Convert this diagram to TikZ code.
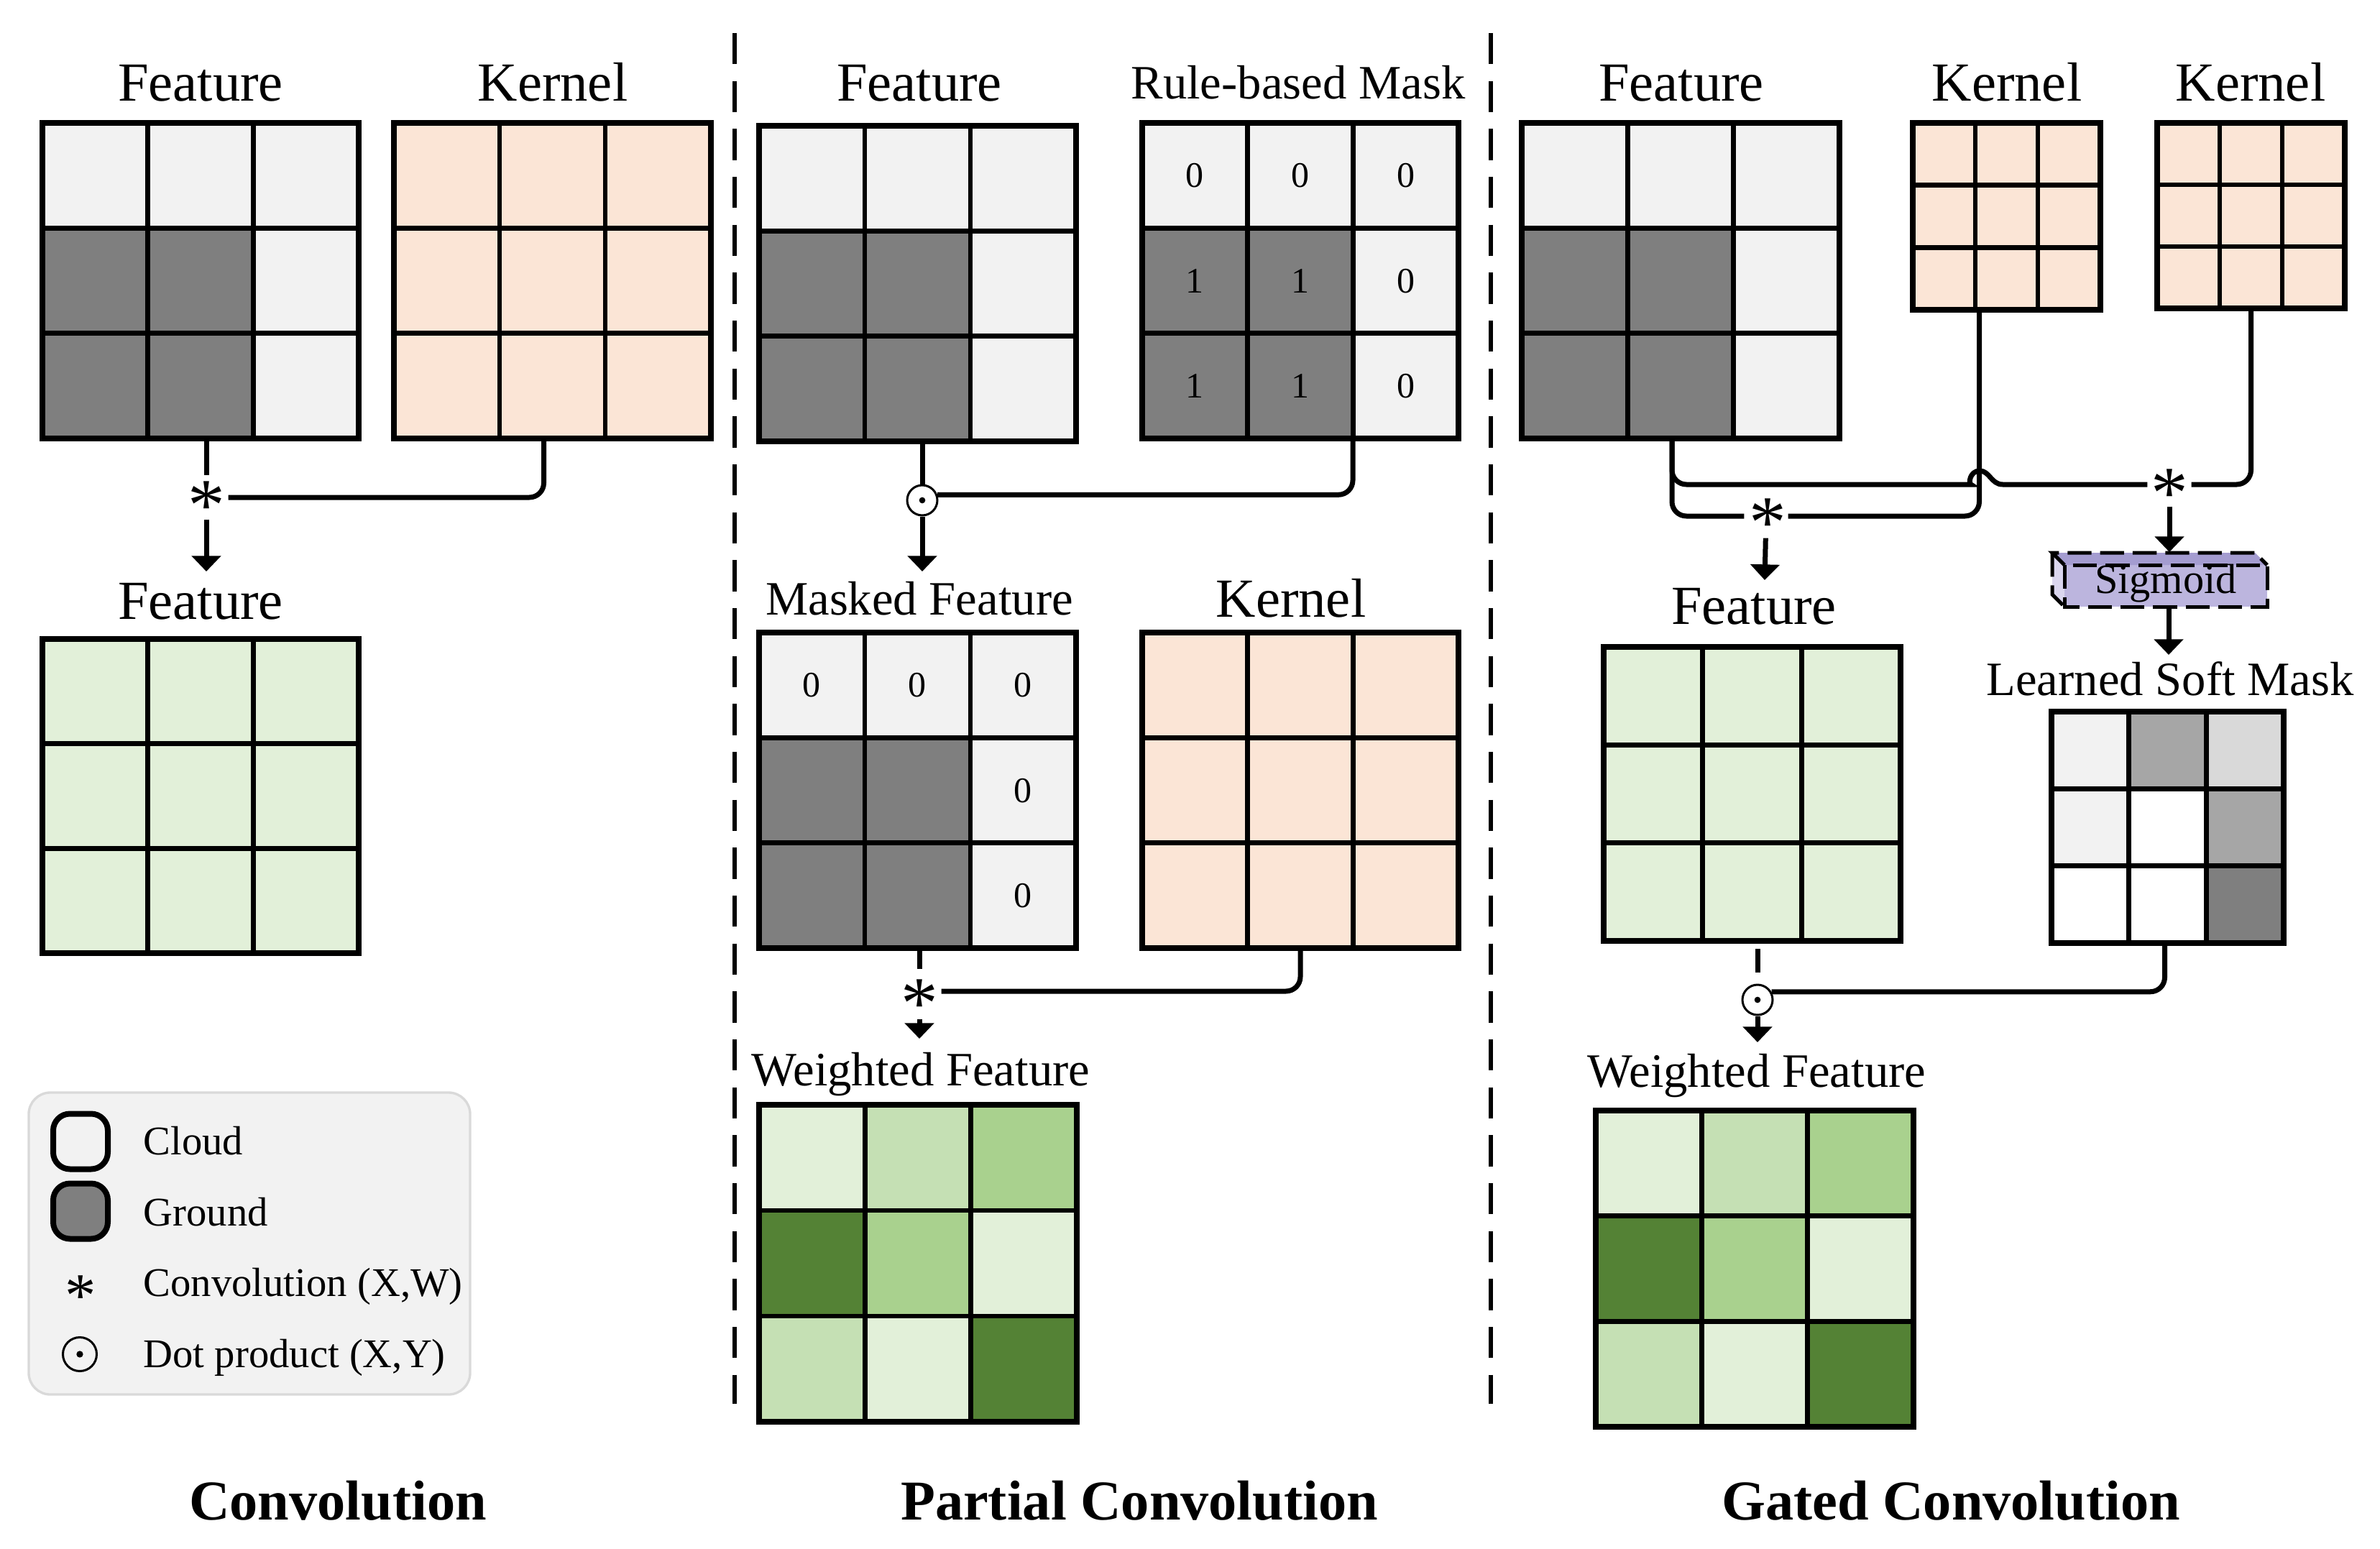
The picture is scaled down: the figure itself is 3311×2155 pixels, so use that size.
\documentclass[tikz,border=0pt]{standalone}
\usepackage{fontspec}
\setmainfont{Liberation Serif}
\usetikzlibrary{arrows.meta}
\definecolor{cloudc}{HTML}{F2F2F2}
\definecolor{groundc}{HTML}{7F7F7F}
\definecolor{peach}{HTML}{FBE5D6}
\definecolor{gA}{HTML}{E2F0D9}
\definecolor{gB}{HTML}{C5E0B4}
\definecolor{gC}{HTML}{A9D18E}
\definecolor{gD}{HTML}{548235}
\definecolor{mA}{HTML}{A6A6A6}
\definecolor{mB}{HTML}{D9D9D9}
\definecolor{legbg}{HTML}{F2F2F2}
\definecolor{legbd}{HTML}{D9D9D9}
\definecolor{sigF}{HTML}{BCB5DE}
\definecolor{sigT}{HTML}{A49CD0}
\definecolor{sigL}{HTML}{DAD6EE}
\newcommand\U{0.3pt}
\newcommand\fs[1]{\fontsize{#1}{#1}\selectfont}
\newcommand\astglyph{\raisebox{-0.44em}[0pt][0pt]{*}}
\newcommand\mygrid[6]{%
  \foreach \gc [count=\gi from 0] in {#6} {
    \pgfmathtruncatemacro\gcol{mod(\gi,3)}
    \pgfmathtruncatemacro\grow{div(\gi,3)}
    \fill[\gc] ({#2+\gcol*#4/3},{#3+\grow*#5/3}) rectangle ++({#4/3},{#5/3});
  }
  \draw[gridin] ({#2+#4/3},#3) -- ++(0,#5) ({#2+2*#4/3},#3) -- ++(0,#5)
                (#2,{#3+#5/3}) -- ++(#4,0) (#2,{#3+2*#5/3}) -- ++(#4,0);
  \node[gridbox, minimum width=#4*\U, minimum height=#5*\U, anchor=north west] (#1) at (#2,#3) {};
}
\tikzset{
  gridbox/.style={draw, line width=2.4pt, inner sep=0pt, outer sep=0pt},
  gridin/.style={line width=2pt},
  conn/.style={line width=2.1pt, rounded corners=6pt},
  arr/.style={line width=2.1pt, -{Triangle[width=12pt,length=6.5pt]}},
  opast/.style={circle, minimum size=60*\U, inner sep=0pt},
  opdot/.style={circle, draw, line width=0.9pt, minimum size=42*\U, inner sep=0pt,
    path picture={\fill[black] (path picture bounding box.center) circle[radius=1.3pt];}},
  astg/.style={inner sep=0pt, font=\fs{31}},
  lab/.style={inner sep=0pt, anchor=base, font=\fs{23}},
  labs/.style={inner sep=0pt, anchor=base, font=\fs{20}},
  num/.style={inner sep=0pt, font=\fs{15}},
  title/.style={inner sep=0pt, anchor=base, font=\fs{23.5}\bfseries},
  legt/.style={inner sep=0pt, anchor=base west, font=\fs{17}},
  sep/.style={line width=1.8pt, dash pattern=on 13pt off 7pt},
  sigdash/.style={line width=1.5pt, dash pattern=on 10pt off 3.6pt},
}
\begin{document}
\begin{tikzpicture}[x=0.3pt, y=-0.3pt]
\useasboundingbox (0,0) rectangle (3311,2155);
\fill[white] (0,0) rectangle (3311,2155);

% separators
\draw[sep] (1022,46) -- (1022,1953);
\draw[sep] (2074,46) -- (2074,1953);

%%%%%%%%%% Convolution
\node[lab] (cl1) at (279,141) {Feature};
\node[lab] (cl2) at (769,141) {Kernel};
\mygrid{feat1}{59}{171}{440}{439}{cloudc,cloudc,cloudc,groundc,groundc,cloudc,groundc,groundc,cloudc}
\mygrid{kern1}{548}{171}{441}{439}{peach,peach,peach,peach,peach,peach,peach,peach,peach}
\node[opast] (op1) at (287,692) {};
\node[astg] (op1g) at (287,692) {\astglyph};
\draw[conn] (feat1.south -| op1) -- (op1);
\draw[conn] ([xshift=-12*\U]kern1.south) |- (op1);
\coordinate (a1) at (287,795);
\draw[arr] (op1) -- (a1);
\node[lab] (cl3) at (279,861) {Feature};
\mygrid{green1}{59}{889}{440}{437}{gA,gA,gA,gA,gA,gA,gA,gA,gA}

% legend
\draw[legbd, fill=legbg, line width=1pt, rounded corners=9pt] (40,1520) rectangle (654,1940);
\node[draw, line width=2.4pt, fill=cloudc, rounded corners=7pt, minimum width=76*\U, minimum height=77*\U, inner sep=0pt] (lg1) at (112,1588) {};
\node[draw, line width=2.4pt, fill=groundc, rounded corners=7pt, minimum width=76*\U, minimum height=77*\U, inner sep=0pt] (lg2) at (112,1685) {};
\node[inner sep=0pt, font=\fs{26}] (lg3) at (112,1793) {\astglyph};
\node[opdot, minimum size=47*\U, path picture={\fill[black] (path picture bounding box.center) circle[radius=1.4pt];}] (lg4) at (111,1884) {};
\node[legt] (lt1) at (199,1606) {Cloud};
\node[legt] (lt2) at (199,1705) {Ground};
\node[legt] (lt3) at (199,1803) {Convolution (X,W)};
\node[legt] (lt4) at (199,1902) {Dot product (X,Y)};

%%%%%%%%%% Partial convolution
\node[lab] (pl1) at (1279,141) {Feature};
\node[labs] (pl2) at (1806,138) {Rule-based Mask};
\mygrid{feat2}{1056}{175}{441}{439}{cloudc,cloudc,cloudc,groundc,groundc,cloudc,groundc,groundc,cloudc}
\mygrid{mask}{1589}{171}{440}{439}{cloudc,cloudc,cloudc,groundc,groundc,cloudc,groundc,groundc,cloudc}
\node[num] (m11) at (1662,244) {0};
\node[num] (m12) at (1809,244) {0};
\node[num] (m13) at (1956,244) {0};
\node[num] (m21) at (1662,391) {1};
\node[num] (m22) at (1809,391) {1};
\node[num] (m23) at (1956,391) {0};
\node[num] (m31) at (1662,537) {1};
\node[num] (m32) at (1809,537) {1};
\node[num] (m33) at (1956,537) {0};
\node[opdot] (p1) at (1283,696) {};
\draw[conn] (feat2.south -| p1) -- (p1);
\draw[conn] ([xshift=73*\U]mask.south) |- (p1.20);
\coordinate (a2) at (1283,795);
\draw[arr] (p1) -- (a2);
\node[labs] (pl3) at (1279,855) {Masked Feature};
\node[lab] (pl4) at (1796,858) {Kernel};
\mygrid{masked}{1056}{880}{441}{439}{cloudc,cloudc,cloudc,groundc,groundc,cloudc,groundc,groundc,cloudc}
\node[num] (n11) at (1129,953) {0};
\node[num] (n12) at (1276,953) {0};
\node[num] (n13) at (1423,953) {0};
\node[num] (n23) at (1423,1100) {0};
\node[num] (n33) at (1423,1246) {0};
\mygrid{kern2}{1589}{880}{440}{439}{peach,peach,peach,peach,peach,peach,peach,peach,peach}
\node[opast] (op2) at (1279,1379) {};
\node[astg] (op2g) at (1279,1385) {\astglyph};
\draw[conn] (masked.south -| op2) -- (op2);
\draw[conn] (kern2.south) |- (op2);
\coordinate (a3) at (1279,1445);
\draw[arr, shorten <=8*\U] (op2) -- (a3);
\node[labs] (pl5) at (1281,1510) {Weighted Feature};
\mygrid{wf2}{1056}{1537}{442}{441}{gA,gB,gC,gD,gC,gA,gB,gA,gD}

%%%%%%%%%% Gated convolution
\node[lab] (gl1) at (2339,141) {Feature};
\node[lab] (gl2) at (2792,141) {Kernel};
\node[lab] (gl3) at (3131,141) {Kernel};
\mygrid{feat3}{2117}{171}{442}{439}{cloudc,cloudc,cloudc,groundc,groundc,cloudc,groundc,groundc,cloudc}
\mygrid{kern3}{2661}{171}{261}{260}{peach,peach,peach,peach,peach,peach,peach,peach,peach}
\mygrid{kern4}{3001}{171}{261}{258}{peach,peach,peach,peach,peach,peach,peach,peach,peach}
\node[opast] (g1) at (2457,718) {};
\node[astg] (g1g) at (2459,716) {\astglyph};
\node[opast] (g2) at (3018,674) {};
\node[astg] (g2g) at (3018,675) {\astglyph};
% upper path with hop
\draw[line width=2.1pt] ([xshift=-12*\U]feat3.south) [rounded corners=6pt] |- (2722,674) [sharp corners]
  .. controls (2738,674) and (2740,655) .. (2754,655)
  .. controls (2768,655) and (2770,674) .. (2786,674) -- (g2);
% lower path
\draw[conn] ([xshift=-12*\U]feat3.south) |- (g1);
\draw[conn] (g1) -| ([xshift=-38*\U]kern3.south);
\draw[conn] (kern4.south) |- (g2);
\coordinate (a4) at (2455,807);
\draw[arr] (g1) -- (a4);
% sigmoid box
\node[fill=sigF, minimum width=282*\U, minimum height=58*\U, inner sep=0pt, outer sep=0pt] (sig) at (3013,815) {};
\fill[sigT] (sig.north west) -- ++(-17,-17) -- ++(282,0) -- (sig.north east) -- cycle;
\fill[sigL] (sig.north west) -- ++(-17,-17) -- ++(0,58) -- (sig.south west) -- cycle;
\draw[sigdash] (sig.north west) -- ++(-17,-17) -- ++(282,0) -- (sig.north east);
\draw[sigdash] (sig.north west) ++(-17,-17) -- ++(0,58) -- (sig.south west);
\draw[sigdash] (sig.north west) rectangle (sig.south east);
\node[inner sep=0pt, font=\fs{17.5}] (sigt) at (3013,812) {Sigmoid};
\coordinate (sigtop) at (3018,768);
\draw[arr] (g2) -- (sigtop);
\coordinate (a5) at (3017,911);
\draw[arr] (sig.south -| a5) -- (a5);
\node[lab] (gl4) at (2440,868) {Feature};
\node[labs] (gl5) at (3019,967) {Learned Soft Mask};
\mygrid{green2}{2231}{900}{413}{409}{gA,gA,gA,gA,gA,gA,gA,gA,gA}
\mygrid{smask}{2854}{990}{323}{322}{cloudc,mA,mB,cloudc,white,mA,white,white,groundc}
\node[opdot] (p2) at (2445,1391) {};
\draw[conn, shorten <=11*\U, shorten >=16*\U] (green2.south -| p2) -- (p2);
\draw[conn] ([xshift=-4*\U]smask.south) |- (p2.30);
\coordinate (a6) at (2445,1450);
\draw[arr] (p2) -- (a6);
\node[labs] (gl6) at (2444,1512) {Weighted Feature};
\mygrid{wf3}{2220}{1545}{442}{440}{gA,gB,gC,gD,gC,gA,gB,gA,gD}

%%%%%%%%%% titles
\node[title] (t1) at (470,2114) {Convolution};
\node[title] (t2) at (1585,2114) {Partial Convolution};
\node[title] (t3) at (2714,2114) {Gated Convolution};
\end{tikzpicture}
\end{document}
